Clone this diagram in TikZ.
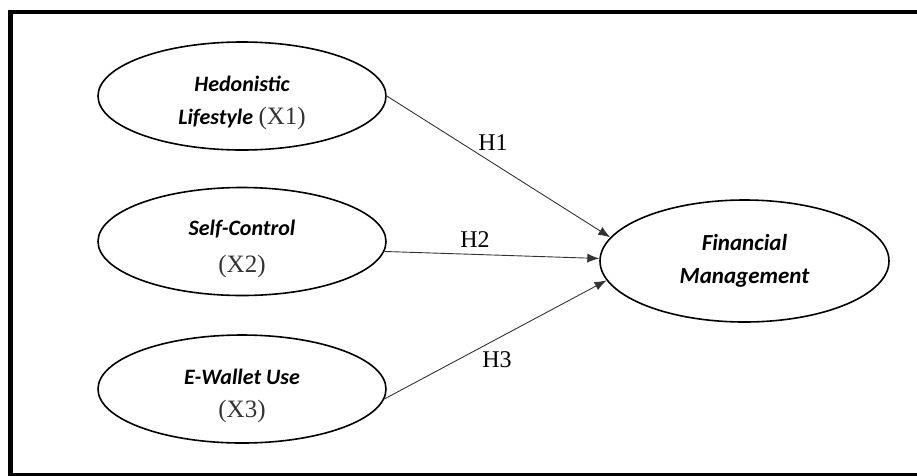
\documentclass[tikz,border=0pt]{standalone}
\usepackage{fontspec}
\setmainfont{Liberation Serif}
\newfontfamily\calfont{Carlito}
\usetikzlibrary{shapes.geometric,arrows.meta}

\newcommand{\vname}[1]{{\calfont\bfseries\itshape #1}}
\newcommand{\vcode}[1]{{\fontsize{25}{33}\selectfont\color{black!80}#1}}
\newcommand{\lift}{\rule{0pt}{30pt}}

\begin{document}
\begin{tikzpicture}[x=1pt,y=-1pt,
    latent/.style={draw, ellipse, line width=1.6pt, minimum width=288pt, minimum height=108pt,
        inner sep=0pt, align=center, font=\fontsize{22}{33}\selectfont},
    effect/.style={-{Latex[length=12pt,width=9pt]}, line width=0.9pt, draw=black!80},
    hyp/.style={font=\fontsize{24}{24}\selectfont}]
    \useasboundingbox (0,0) rectangle (917,475);

    % Frame - right side runs off the page
    \draw[line width=4.5pt] (917,12) -- (10.5,12) -- (10.5,475.5) -- (917,475.5);

    % Independent variables
    \node[latent] (hedon) at (242,96) {\lift\vname{Hedonistic}\\\vname{Lifestyle} \vcode{(X1)}};
    \node[latent] (selfc) at (242,241.5) {\lift\vname{Self-Control}\\[4pt]\vcode{(X2)}};
    \node[latent] (ewall) at (242,389) {\lift\vname{E-Wallet Use}\\\vcode{(X3)}};

    % Dependent variable
    \node[latent, minimum width=289pt, minimum height=122pt, font=\fontsize{23}{33}\selectfont] (finman)
        at (744.5,261) {\vname{Financial}\\\vname{Management}};

    % Hypotheses
    \draw[effect] (hedon.east) -- (finman.170);
    \draw[effect] (selfc.-4) -- (finman.179);
    \draw[effect] (ewall.-4) -- (finman.188);

    \node[hyp] (h1) at (493,143) {H1};
    \node[hyp] (h2) at (475,240) {H2};
    \node[hyp] (h3) at (497,360) {H3};
\end{tikzpicture}
\end{document}
